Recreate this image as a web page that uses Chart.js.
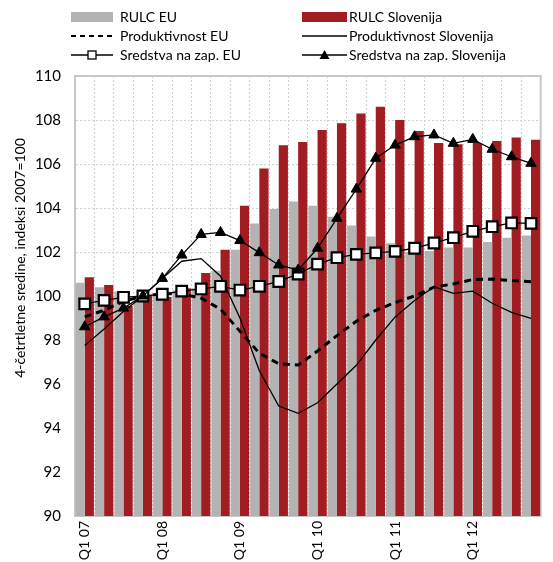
<!DOCTYPE html>
<html lang="sl">
<head>
    <meta charset="UTF-8">
    <title>RULC, produktivnost in sredstva na zaposlenega</title>
    <script src="https://cdn.jsdelivr.net/npm/chart.js"></script>
    <style>
        body {
            margin: 0;
            background: #fff;
        }
        #wrap {
            width: 553px;
            height: 562px;
        }
    </style>
</head>
<body>
    <div id="wrap"><canvas id="myChart" width="553" height="562"></canvas></div>

    <script>
        // cetrtletja Q1 07 - Q4 12
        const kvartali = [];
        ['07', '08', '09', '10', '11', '12'].forEach(l => {
            for (let q = 1; q <= 4; q++) kvartali.push('Q' + q + ' ' + l);
        });

        const rulcEU = [100.6, 100.4, 100.2, 100.0, 100.05, 100.25, 100.35, 101.15, 102.1, 103.3, 103.95, 104.3,
                        104.1, 103.6, 103.2, 102.7, 102.4, 102.0, 102.05, 102.2, 102.2, 102.45, 102.65, 102.75];
        const rulcSlo = [100.85, 100.5, 99.55, 100.0, 99.95, 100.35, 101.05, 102.1, 104.1, 105.8, 106.85, 107.0,
                         107.55, 107.85, 108.3, 108.6, 108.0, 107.5, 106.95, 106.9, 106.95, 107.05, 107.2, 107.1];
        const prodEU = [99.05, 99.35, 99.75, 100.0, 100.1, 100.1, 99.9, 99.4, 98.4, 97.4, 96.92, 96.86,
                        97.5, 98.2, 98.85, 99.35, 99.7, 100.0, 100.4, 100.55, 100.75, 100.77, 100.7, 100.65];
        const prodSlo = [97.75, 98.5, 99.3, 100.0, 100.8, 101.58, 101.7, 100.9, 99.0, 96.6, 95.0, 94.67,
                         95.15, 96.0, 96.85, 98.0, 99.05, 99.8, 100.42, 100.12, 100.22, 99.67, 99.26, 98.98];
        const sredEU = [99.64, 99.8, 99.94, 100.0, 100.08, 100.22, 100.32, 100.44, 100.27, 100.44, 100.66, 101.0,
                        101.45, 101.74, 101.89, 101.96, 102.03, 102.17, 102.41, 102.65, 102.94, 103.15, 103.32, 103.3];
        const sredSlo = [98.6, 99.05, 99.45, 100.0, 100.8, 101.86, 102.8, 102.89, 102.52, 101.97, 101.41, 101.18,
                         102.17, 103.53, 104.86, 106.26, 106.86, 107.24, 107.32, 106.94, 107.12, 106.67, 106.33, 106.03];

        const naslovY = '4-četrtletne sredine, indeksi 2007=100';

        const siva = '#b3b3b3';
        const rdeca = '#a11d22';
        const pisava = 'Lato, "Open Sans", sans-serif';

        // legenda v dveh stolpcih, kot v izvirniku
        const legenda = {
            id: 'legenda',
            afterDraw(chart) {
                const c = chart.ctx;
                const vrstice = [17, 36, 55];
                const stolpci = [{ x0: 71, x1: 113, tx: 120 }, { x0: 302, x1: 347, tx: 349 }];
                const postavke = [
                    ['bar', siva, 'RULC EU', 0, 0],
                    ['bar', rdeca, 'RULC Slovenija', 1, 0],
                    ['dash', '#000', 'Produktivnost EU', 0, 1],
                    ['line', '#000', 'Produktivnost Slovenija', 1, 1],
                    ['rect', '#000', 'Sredstva na zap. EU', 0, 2],
                    ['tri', '#000', 'Sredstva na zap. Slovenija', 1, 2]
                ];
                c.save();
                c.font = '14px ' + pisava;
                c.textBaseline = 'middle';
                postavke.forEach(([tip, barva, besedilo, s, v]) => {
                    const st = stolpci[s];
                    const y = vrstice[v];
                    const xm = (st.x0 + st.x1) / 2;
                    c.strokeStyle = '#000';
                    c.fillStyle = barva;
                    if (tip === 'bar') {
                        c.fillRect(st.x0, y - 5, st.x1 - st.x0, 10);
                    } else {
                        c.lineWidth = tip === 'dash' ? 2 : 1.3;
                        c.setLineDash(tip === 'dash' ? [5, 4] : []);
                        c.beginPath();
                        c.moveTo(st.x0, y);
                        c.lineTo(st.x1, y);
                        c.stroke();
                        c.setLineDash([]);
                        if (tip === 'rect') {
                            c.fillStyle = '#fff';
                            c.lineWidth = 1.3;
                            c.fillRect(xm - 4, y - 4, 8, 8);
                            c.strokeRect(xm - 4, y - 4, 8, 8);
                        }
                        if (tip === 'tri') {
                            c.fillStyle = '#000';
                            c.beginPath();
                            c.moveTo(xm, y - 5);
                            c.lineTo(xm + 5, y + 4);
                            c.lineTo(xm - 5, y + 4);
                            c.closePath();
                            c.fill();
                        }
                    }
                    c.fillStyle = '#000';
                    c.fillText(besedilo, st.tx, y);
                });

                // naslov osi y (v izvirniku ni centriran na os)
                c.translate(20, 258);
                c.rotate(-Math.PI / 2);
                c.textAlign = 'center';
                c.fillText(naslovY, 0, 0);
                c.restore();
            }
        };

        // okvir risalne povrsine
        const okvir = {
            id: 'okvir',
            beforeDatasetsDraw(chart) {
                const a = chart.chartArea;
                const c = chart.ctx;
                c.save();
                c.strokeStyle = '#c8c8c8';
                c.lineWidth = 2;
                c.strokeRect(a.left, a.top, a.right - a.left, a.bottom - a.top);
                c.restore();
            }
        };

        const ctx = document.getElementById('myChart').getContext('2d');
        const myChart = new Chart(ctx, {
            type: 'bar',
            data: {
                labels: kvartali,
                datasets: [
                    {
                        type: 'line', label: 'Sredstva na zap. Slovenija', data: sredSlo,
                        borderColor: '#000', borderWidth: 1.3, tension: 0,
                        pointStyle: 'triangle', pointRadius: 6, pointBackgroundColor: '#000',
                        pointBorderColor: '#000', pointBorderWidth: 1, order: 1
                    },
                    {
                        type: 'line', label: 'Sredstva na zap. EU', data: sredEU,
                        borderColor: '#000', borderWidth: 1.3, tension: 0,
                        pointStyle: 'rect', pointRadius: 7.5, pointBackgroundColor: '#fff',
                        pointBorderColor: '#000', pointBorderWidth: 2.2, order: 1
                    },
                    {
                        type: 'line', label: 'Produktivnost Slovenija', data: prodSlo,
                        borderColor: '#000', borderWidth: 1.3, tension: 0, pointRadius: 0, order: 2
                    },
                    {
                        type: 'line', label: 'Produktivnost EU', data: prodEU,
                        borderColor: '#000', borderWidth: 3, borderDash: [7, 5], tension: 0,
                        pointRadius: 0, order: 2
                    },
                    {
                        label: 'RULC EU', data: rulcEU, backgroundColor: siva,
                        categoryPercentage: 0.95, barPercentage: 1, order: 5
                    },
                    {
                        label: 'RULC Slovenija', data: rulcSlo, backgroundColor: rdeca,
                        categoryPercentage: 0.95, barPercentage: 1, order: 5
                    }
                ]
            },
            options: {
                responsive: false,
                animation: false,
                layout: { padding: { top: 76, right: 0, bottom: 0, left: 0 } },
                plugins: {
                    legend: { display: false },
                    tooltip: { enabled: false }
                },
                scales: {
                    x: {
                        grid: { color: '#d0d0d0', tickLength: 0, drawTicks: false },
                        border: { dash: [2, 2], color: '#bdbdbd', width: 2 },
                        ticks: {
                            autoSkip: false, minRotation: 90, maxRotation: 90,
                            color: '#000', padding: 5,
                            font: { size: 14, family: pisava },
                            callback: (v, i) => i % 4 === 0 ? kvartali[i] : ''
                        },
                        afterFit: s => { s.height = 46; }
                    },
                    y: {
                        min: 90, max: 110,
                        grid: { color: '#d0d0d0', drawTicks: false },
                        border: { dash: [2, 2], color: '#bdbdbd', width: 2 },
                        ticks: {
                            stepSize: 2, color: '#000', padding: 14,
                            font: { size: 15, family: pisava }
                        },
                        afterFit: s => { s.width = 75; }
                    }
                }
            },
            plugins: [okvir, legenda]
        });
    </script>
</body>
</html>
